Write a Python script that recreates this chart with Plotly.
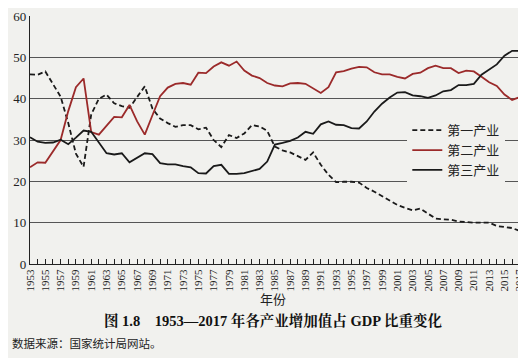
import plotly.graph_objects as go

years = list(range(1953, 2018))

primary = [45.9, 45.8, 46.6, 43.5, 40.5, 34.1, 26.7, 23.5, 36.2, 40.0, 41.0, 38.9, 38.2, 37.8, 40.3, 43.0,
           37.6, 35.2, 34.1, 33.2, 33.6, 33.6, 32.6, 33.0, 30.0, 28.3, 31.2, 30.5, 31.6, 33.6, 33.3, 32.2,
           28.4, 27.5, 27.0, 26.0, 25.2, 27.0, 24.0, 21.6, 19.8, 19.9, 19.9, 19.7, 18.4, 17.5, 16.4, 15.2,
           14.3, 13.6, 13.0, 13.4, 12.2, 11.0, 10.8, 10.7, 10.3, 10.1, 10.0, 10.0, 10.0, 9.2, 8.9, 8.7, 8.0]

secondary = [23.4, 24.6, 24.5, 27.4, 30.0, 37.0, 42.8, 44.9, 31.9, 31.3, 33.5, 35.6, 35.5, 38.5, 34.5, 31.3,
             36.0, 40.6, 42.7, 43.6, 43.8, 43.4, 46.3, 46.2, 47.8, 48.8, 48.0, 49.0, 46.8, 45.6, 45.0, 43.8,
             43.2, 43.0, 43.7, 43.8, 43.6, 42.6, 41.4, 42.8, 46.4, 46.7, 47.3, 47.7, 47.6, 46.4, 45.9, 45.9,
             45.3, 44.9, 46.0, 46.3, 47.4, 48.0, 47.4, 47.4, 46.2, 46.8, 46.6, 45.3, 44.0, 43.1, 41.0, 39.7, 40.4]

tertiary = [30.7, 29.6, 29.3, 29.4, 30.1, 29.0, 30.6, 32.3, 32.0, 29.5, 26.8, 26.5, 26.8, 24.6, 25.8, 26.8,
            26.6, 24.4, 24.1, 24.1, 23.7, 23.4, 22.0, 21.9, 23.7, 24.0, 21.8, 21.8, 22.0, 22.5, 23.0, 24.8,
            28.9, 29.3, 29.8, 30.6, 32.0, 31.5, 33.8, 34.5, 33.7, 33.6, 32.9, 32.8, 34.5, 36.9, 38.8, 40.3,
            41.5, 41.6, 40.8, 40.6, 40.2, 40.8, 41.8, 42.1, 43.3, 43.3, 43.6, 45.8, 47.0, 48.3, 50.4, 51.6, 51.6]

series_names = ["第一产业", "第二产业", "第三产业"]
x_title = "年份"
caption = "图 1.8　1953—2017 年各产业增加值占 GDP 比重变化"
source = "数据来源：国家统计局网站。"

SERIF = "Liberation Serif, Noto Serif CJK SC, Noto Sans CJK SC, serif"
CJK = "Noto Sans CJK SC, Liberation Serif, serif"
BG = "#f1f1ee"

fig = go.Figure()
fig.add_trace(go.Scatter(x=years, y=primary, mode="lines", name=series_names[0],
                         line=dict(color="#1a1a1a", width=1.8, dash="5px,3px")))
fig.add_trace(go.Scatter(x=years, y=secondary, mode="lines", name=series_names[1],
                         line=dict(color="#9b2a2a", width=1.8)))
fig.add_trace(go.Scatter(x=years, y=tertiary, mode="lines", name=series_names[2],
                         line=dict(color="#1a1a1a", width=1.8)))

fig.update_layout(
    width=526, height=358,
    margin=dict(l=22, r=14, t=8, b=102),
    paper_bgcolor=BG, plot_bgcolor=BG,
    showlegend=True,
    legend=dict(x=0.77, y=0.6, xanchor="left", yanchor="top", bgcolor=BG,
                font=dict(family=CJK, size=13, color="#222"), itemwidth=30,
                tracegroupgap=0),
    xaxis=dict(range=[1953, 2017.03], tick0=1953, dtick=2, ticks="inside", ticklen=5,
               tickcolor="#222", tickangle=-90, showgrid=False, zeroline=False,
               showline=True, linecolor="#222", linewidth=1.2, automargin=False,
               ticklabeloverflow="allow",
               tickfont=dict(family=SERIF, size=11, color="#222"),
               minor=dict(dtick=1, tick0=1953, ticks="inside", ticklen=5, tickcolor="#222")),
    yaxis=dict(range=[0, 60.02], dtick=10, showgrid=True, gridcolor="#555", gridwidth=1,
               zeroline=False, showline=True, linecolor="#222", linewidth=1.2,
               ticks="", automargin=False, ticklabeloverflow="allow",
               tickfont=dict(family=SERIF, size=13, color="#222")),
)

def py(p):
    return (256 - p) / 248.0

fig.add_annotation(text=x_title, xref="paper", yref="paper", x=0.495, y=py(302),
                   showarrow=False, font=dict(family=CJK, size=13, color="#222"))
fig.add_annotation(text="<b>" + caption + "</b>", xref="paper", yref="paper", x=0.495, y=py(323),
                   showarrow=False, font=dict(family=SERIF, size=14.5, color="#111"))
fig.add_annotation(text=source, xref="paper", yref="paper", x=-0.04, y=py(345),
                   xanchor="left", showarrow=False,
                   font=dict(family=CJK, size=11.5, color="#222"))

fig.write_html("out.html")
